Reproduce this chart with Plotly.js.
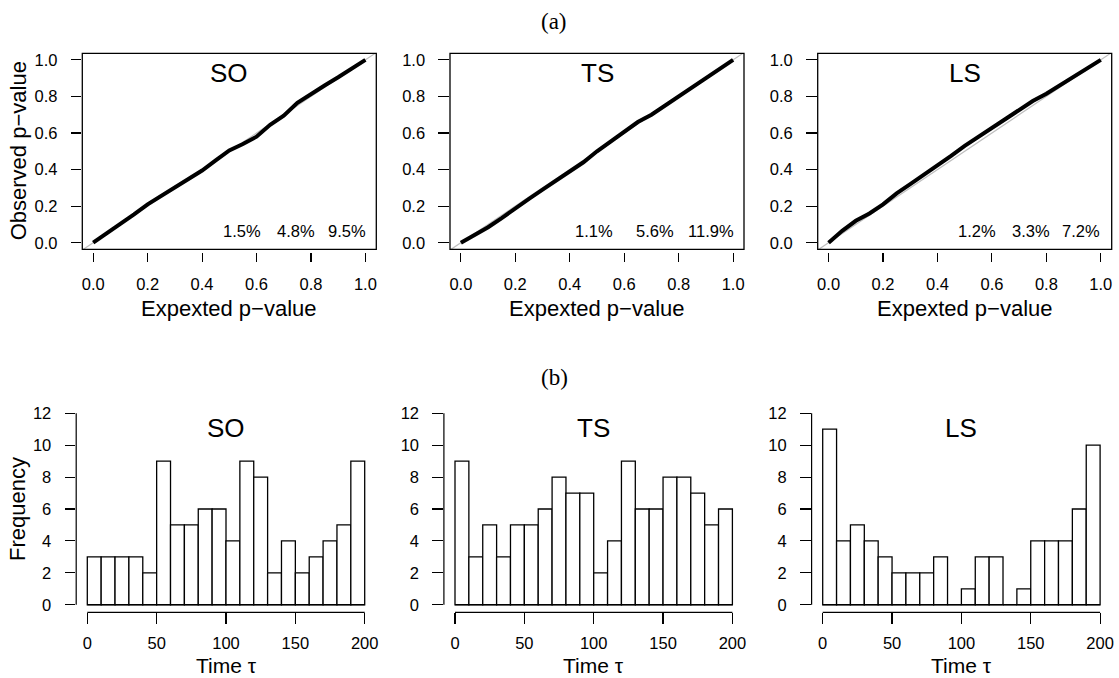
<!DOCTYPE html>
<html><head><meta charset="utf-8">
<script src="https://cdn.plot.ly/plotly-3.0.1.min.js"></script>
<style>html,body{margin:0;padding:0;background:#fff;} #chart{width:1119px;height:678px;}</style>
</head><body><div id="chart"></div>
<script>
// ---------- data ----------
const panelNames = ['SO', 'TS', 'LS'];
const expectedP = [0, 0.05, 0.10, 0.15, 0.20, 0.25, 0.30, 0.35, 0.40, 0.45, 0.50, 0.55, 0.60, 0.65, 0.70, 0.75, 0.80, 0.85, 0.90, 0.95, 1.00];
const observedSO = [0, 0.05, 0.105, 0.155, 0.21, 0.255, 0.305, 0.35, 0.395, 0.45, 0.505, 0.54, 0.58, 0.645, 0.695, 0.765, 0.815, 0.86, 0.905, 0.95, 1.0];
const observedTS = [0, 0.04, 0.085, 0.135, 0.19, 0.24, 0.29, 0.34, 0.385, 0.44, 0.50, 0.555, 0.605, 0.66, 0.70, 0.75, 0.80, 0.85, 0.90, 0.95, 1.0];
const observedLS = [0, 0.065, 0.12, 0.16, 0.21, 0.27, 0.32, 0.37, 0.42, 0.475, 0.53, 0.58, 0.63, 0.68, 0.73, 0.775, 0.815, 0.86, 0.91, 0.95, 1.0];
const pctSO = ['1.5%', '4.8%', '9.5%'];
const pctTS = ['1.1%', '5.6%', '11.9%'];
const pctLS = ['1.2%', '3.3%', '7.2%'];
const binStart = 0;
const binWidth = 10;
const freqSO = [3, 3, 3, 3, 2, 9, 5, 5, 6, 6, 4, 9, 8, 2, 4, 2, 3, 4, 5, 9];
const freqTS = [9, 3, 5, 3, 5, 5, 6, 8, 7, 7, 2, 4, 9, 6, 6, 8, 8, 7, 5, 6];
const freqLS = [11, 4, 5, 4, 3, 2, 2, 2, 3, 0, 1, 3, 3, 0, 1, 4, 4, 4, 6, 10];
const qqTicks = [0, 0.2, 0.4, 0.6, 0.8, 1.0];
const histXTicks = [0, 50, 100, 150, 200];
const histYTicks = [0, 2, 4, 6, 8, 10, 12];
const sectionLabels = ['(a)', '(b)'];
const qqXTitle = 'Expexted p\u2212value';
const qqYTitle = 'Observed p\u2212value';
const histXTitle = 'Time \u03c4';
const histYTitle = 'Frequency';

const observed = [observedSO, observedTS, observedLS];
const pcts = [pctSO, pctTS, pctLS];
const freqs = [freqSO, freqTS, freqLS];

// ---------- geometry ----------
const W = 1119, H = 678;
const px = v => v / W;
const py = v => 1 - v / H;
const colStep = 367.7;
const qqL = 82.3, qqW = 294, qqT = 53.3, qqB = 249.3;
const hL = 76.2, hW = 299.6, hT = 405.6, hB = 612.4;
const pctX = [[0.5465, 0.746, 0.9316], [0.49, 0.712, 0.9205], [0.546, 0.745, 0.928]];

const FONT = 'Liberation Sans, Arial, Helvetica, sans-serif';
const tickFont = {family: FONT, size: 16.5, color: '#000'};

const traces = [];
const layout = {
  width: W, height: H,
  margin: {l: 0, r: 0, t: 0, b: 0},
  paper_bgcolor: '#fff', plot_bgcolor: 'rgba(0,0,0,0)',
  showlegend: false, bargap: 0,
  annotations: [], shapes: []
};

function ann(text, x, y, size, opts) {
  return Object.assign({text: text, x: x, y: y, xref: 'paper', yref: 'paper', showarrow: false,
    xanchor: 'center', yanchor: 'middle', font: {family: FONT, size: size, color: '#000'}}, opts || {});
}

for (let i = 0; i < 3; i++) {
  // QQ plot axes
  const qx = i === 0 ? 'x' : 'x' + (i + 1);
  const qy = i === 0 ? 'y' : 'y' + (i + 1);
  const qxK = i === 0 ? 'xaxis' : 'xaxis' + (i + 1);
  const qyK = i === 0 ? 'yaxis' : 'yaxis' + (i + 1);
  const left = qqL + i * colStep;
  const xr = [-0.04, 1.04], yr = [-0.036, 1.036];
  layout[qxK] = {domain: [px(left), px(left + qqW)], range: xr, anchor: 'free', position: py(251.5),
    showline: false, zeroline: false, showgrid: false, ticks: 'outside', ticklen: 9.5, tickwidth: 1.1, tickcolor: '#000',
    tickvals: qqTicks, tickformat: '.1f', tickfont: tickFont, ticklabelstandoff: 8, fixedrange: true};
  layout[qyK] = {domain: [py(qqB), py(qqT)], range: yr, anchor: qx,
    showline: false, zeroline: false, showgrid: false, ticks: 'outside', ticklen: 10.6, tickwidth: 1.1, tickcolor: '#000',
    tickvals: qqTicks, tickformat: '.1f', tickfont: tickFont, ticklabelstandoff: 10, fixedrange: true};
  traces.push({type: 'scatter', mode: 'lines', x: xr, y: xr, xaxis: qx, yaxis: qy,
    line: {color: '#bebebe', width: 1.2}, hoverinfo: 'skip'});
  traces.push({type: 'scatter', mode: 'lines', x: expectedP, y: observed[i], xaxis: qx, yaxis: qy,
    line: {color: '#000', width: 4}, hoverinfo: 'skip'});
  layout.shapes.push({type: 'rect', xref: qx + ' domain', yref: qy + ' domain', x0: 0, x1: 1, y0: 0, y1: 1,
    line: {color: '#000', width: 1.3}});
  const cx = left + qqW / 2;
  layout.annotations.push(ann(panelNames[i], px(cx), py(73), 26));
  pcts[i].forEach((t, k) => layout.annotations.push({text: t, x: pctX[i][k], y: py(231), xref: qx, yref: 'paper',
    showarrow: false, xanchor: 'center', yanchor: 'middle', font: {family: FONT, size: 16.5, color: '#000'}}));
  layout.annotations.push(ann(qqXTitle, px(cx), py(309), 22));

  // histogram axes
  const hx = 'x' + (i + 4), hy = 'y' + (i + 4);
  const hxK = 'xaxis' + (i + 4), hyK = 'yaxis' + (i + 4);
  const hleft = hL + i * colStep;
  const binEnd = binStart + binWidth * freqs[i].length;
  const pad = 0.04 * (binEnd - binStart);
  const ymax = histYTicks[histYTicks.length - 1];
  layout[hxK] = {domain: [px(hleft), px(hleft + hW)], range: [binStart - pad, binEnd + pad], anchor: hy,
    showline: false, zeroline: false, showgrid: false, ticks: 'outside', ticklen: 10.6, tickwidth: 1.1, tickcolor: '#000',
    tickvals: histXTicks, tickfont: tickFont, ticklabelstandoff: 5, fixedrange: true};
  layout[hyK] = {domain: [py(hB), py(hT)], range: [-0.04 * ymax, 1.04 * ymax], anchor: hx,
    showline: false, zeroline: false, showgrid: false, ticks: 'outside', ticklen: 10.6, tickwidth: 1.1, tickcolor: '#000',
    tickvals: histYTicks, tickfont: tickFont, ticklabelstandoff: 10, fixedrange: true};
  traces.push({type: 'bar', x: freqs[i].map((_, k) => binStart + binWidth * (k + 0.5)), y: freqs[i],
    width: binWidth, xaxis: hx, yaxis: hy, marker: {color: '#fff', line: {color: '#000', width: 1.3}}, hoverinfo: 'skip'});
  layout.shapes.push({type: 'line', xref: hx, yref: hy + ' domain', x0: binStart, x1: binEnd, y0: 0, y1: 0,
    line: {color: '#000', width: 1.2}});
  layout.shapes.push({type: 'line', xref: hx + ' domain', yref: hy, x0: 0, x1: 0, y0: histYTicks[0], y1: ymax,
    line: {color: '#000', width: 1.2}});
  layout.shapes.push({type: 'line', xref: hx, yref: hy, x0: binStart, x1: binEnd, y0: 0, y1: 0,
    line: {color: '#000', width: 1.2}});
  const hcx = hleft + hW / 2;
  layout.annotations.push(ann(panelNames[i], px(hcx), py(427.5), 26));
  layout.annotations.push(ann(histXTitle, px(hcx), py(665.5), 21));
}
layout.annotations.push(ann(qqYTitle, px(18), py((qqT + qqB) / 2), 22, {textangle: -90}));
layout.annotations.push(ann(histYTitle, px(17), py((hT + hB) / 2), 22, {textangle: -90}));
const serif = {family: 'Liberation Serif, DejaVu Serif, serif', size: 23, color: '#000'};
layout.annotations.push(ann(sectionLabels[0], px(554), py(21), 23, {font: serif}));
layout.annotations.push(ann(sectionLabels[1], px(554), py(377), 23, {font: serif}));

Plotly.newPlot('chart', traces, layout, {staticPlot: true, displayModeBar: false});
</script></body></html>
